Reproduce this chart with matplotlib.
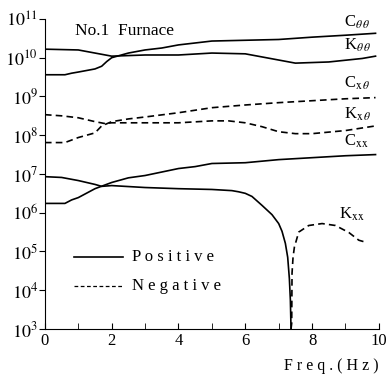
import numpy as np
import matplotlib
matplotlib.use('Agg')
import matplotlib.pyplot as plt
from matplotlib.ticker import FixedLocator, FuncFormatter

plt.rcParams['font.family'] = ['Liberation Serif', 'DejaVu Serif']
plt.rcParams['mathtext.fontset'] = 'stix'

# values, as log10 of the stiffness / damping
f_ktt = [0, 1, 1.5, 2, 3, 4, 5, 6, 6.5, 7, 7.5, 8.5, 9.5, 9.9]
ktt = [10.22, 10.20, 10.12, 10.04, 10.07, 10.07, 10.12, 10.10, 10.02, 9.94, 9.86, 9.89, 9.98, 10.04]

f_ctt = [0, 0.6, 0.8, 1, 1.5, 1.7, 1.85, 2, 2.5, 3, 3.5, 4, 4.5, 5, 6, 7, 8, 9, 9.9]
ctt = [9.56, 9.56, 9.60, 9.63, 9.71, 9.78, 9.90, 10.0, 10.12, 10.20, 10.25, 10.33, 10.38, 10.43, 10.45, 10.47, 10.53, 10.58, 10.63]

f_cxt = [0, 0.6, 1, 1.5, 1.7, 2, 2.5, 3, 4, 5, 6, 7, 8, 9, 9.9]
cxt = [7.81, 7.81, 7.94, 8.06, 8.24, 8.35, 8.42, 8.47, 8.58, 8.71, 8.78, 8.84, 8.89, 8.94, 8.97]

f_kxt = [0, 0.5, 1, 1.5, 1.8, 2, 3, 4, 5, 5.5, 6, 6.5, 7, 7.5, 8, 9, 9.9]
kxt = [8.53, 8.50, 8.45, 8.35, 8.30, 8.32, 8.32, 8.32, 8.37, 8.37, 8.32, 8.22, 8.09, 8.04, 8.04, 8.12, 8.24]

f_cxx = [0, 0.6, 0.8, 1, 1.5, 2, 2.5, 3, 4, 4.5, 5, 6, 7, 8, 9, 9.9]
cxx = [6.24, 6.24, 6.33, 6.39, 6.62, 6.78, 6.90, 6.96, 7.14, 7.19, 7.27, 7.29, 7.37, 7.42, 7.47, 7.50]

f_kxx_pos = [0, 0.5, 1, 1.5, 1.7, 2, 3, 4, 5, 5.6, 5.8, 6, 6.2, 6.5, 6.8, 7, 7.1, 7.2, 7.27, 7.32, 7.35, 7.37]
kxx_pos = [6.93, 6.91, 6.83, 6.73, 6.68, 6.70, 6.65, 6.62, 6.60, 6.57, 6.54, 6.50, 6.42, 6.19, 5.95, 5.72, 5.52, 5.21, 4.85, 4.30, 3.75, 3.0]

f_kxx_neg = [7.37, 7.39, 7.40, 7.43, 7.47, 7.6, 7.9, 8.3, 8.7, 9.1, 9.4, 9.6]
kxx_neg = [3.0, 3.15, 4.44, 4.85, 5.11, 5.50, 5.67, 5.72, 5.67, 5.49, 5.29, 5.24]

fig = plt.figure(figsize=(3.87, 3.79), dpi=100)
ax = fig.add_axes([0.116, 0.132, 0.863, 0.818])

lw = 1.2
ax.plot(f_ktt, 10 ** np.array(ktt), 'k-', lw=lw)
ax.plot(f_ctt, 10 ** np.array(ctt), 'k-', lw=lw)
ax.plot(f_cxt, 10 ** np.array(cxt), 'k--', lw=lw, dashes=(4, 2.5))
ax.plot(f_kxt, 10 ** np.array(kxt), 'k--', lw=lw, dashes=(4, 2.5))
ax.plot(f_cxx, 10 ** np.array(cxx), 'k-', lw=lw)
ax.plot(f_kxx_pos, 10 ** np.array(kxx_pos), 'k-', lw=lw)
ax.plot(f_kxx_neg, 10 ** np.array(kxx_neg), 'k--', lw=lw, dashes=(4, 2.5))

ax.set_yscale('log')
ax.set_xlim(0, 10)
ax.set_ylim(1e3, 1e11)
ax.spines['top'].set_visible(False)
ax.spines['right'].set_visible(False)

ax.yaxis.set_major_locator(FixedLocator([10.0 ** k for k in range(3, 12)]))
ax.yaxis.set_minor_locator(FixedLocator([]))
ax.yaxis.set_major_formatter(FuncFormatter(lambda v, p: r'$10^{%d}$' % round(np.log10(v))))
ax.tick_params(axis='y', direction='out', length=4, labelsize=13, pad=1)

ax.set_xticks([0, 2, 4, 6, 8, 10])
ax.set_xticks([1, 3, 5, 7, 9], minor=True)
ax.tick_params(axis='x', which='both', direction='in', length=4, labelsize=12, pad=3)

ax.text(0.9, 10 ** 10.7, 'No.1  Furnace', fontsize=12.5, ha='left', va='center')

lab = dict(fontsize=12, ha='left', va='center')
ax.text(8.95, 10 ** 10.92, r'C$_{\theta\,\theta}$', **lab)
ax.text(8.95, 10 ** 10.33, r'K$_{\theta\,\theta}$', **lab)
ax.text(8.95, 10 ** 9.35, r'C$_{\mathrm{x}\,\theta}$', **lab)
ax.text(8.95, 10 ** 8.53, r'K$_{\mathrm{x}\,\theta}$', **lab)
ax.text(8.95, 10 ** 7.85, r'C$_{\mathrm{xx}}$', **lab)
ax.text(8.8, 10 ** 5.95, r'K$_{\mathrm{xx}}$', **lab)

# legend drawn by hand like the original
ax.plot([0.87, 2.35], [10 ** 4.85, 10 ** 4.85], 'k-', lw=lw)
ax.plot([0.87, 2.35], [10 ** 4.1, 10 ** 4.1], 'k--', lw=0.9, dashes=(3, 2))
ax.text(2.6, 10 ** 4.85, 'P o s i t i v e', fontsize=12, va='center')
ax.text(2.6, 10 ** 4.1, 'N e g a t i v e', fontsize=12, va='center')

ax.text(10.0, 10 ** 2.05, 'F r e q . ( H z )', fontsize=11.5, ha='right', va='center')

fig.savefig('out.png', dpi=100)
